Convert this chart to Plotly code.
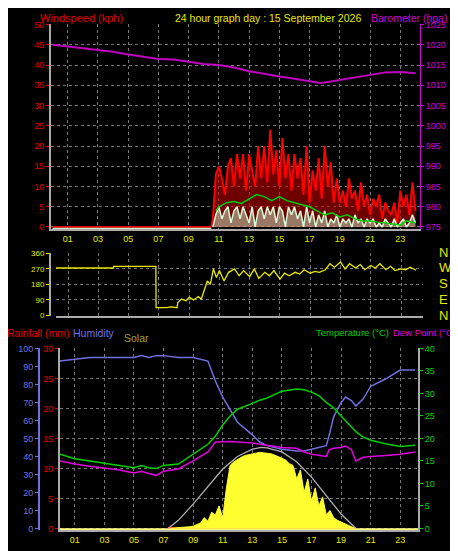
import plotly.graph_objects as go

W, H = 458, 551
# ---------------- data ----------------
baro_t = [0, 1, 2, 3, 4, 5, 6, 7, 8, 9, 10, 11, 12, 13, 14, 15, 16, 17, 17.7, 18, 19, 20, 21, 22, 23, 24]
baro_v = [1020, 1019.6, 1019.1, 1018.8, 1018.3, 1017.6, 1017, 1016.5, 1016.4, 1015.9, 1015.3, 1015,
          1014.4, 1013.5, 1012.8, 1012.2, 1011.6, 1011.1, 1010.6, 1010.7, 1011.3, 1012, 1012.6, 1013.2, 1013.3, 1013]

gust = [2, 13, 15, 12, 8, 15, 17, 10, 18, 12, 18, 9, 18, 14, 10, 20, 12, 20, 11, 24, 13, 19, 10, 22,
        12, 18, 9, 18, 12, 17, 8, 20, 6, 14, 9, 17, 7, 20, 10, 16, 6, 12, 6, 9, 5, 12, 7, 9, 4, 11,
        5, 8, 3, 7, 5, 8, 2, 6, 4, 3, 6, 1, 9, 5, 8, 3, 11, 4]
avg_t = [10.8, 11, 11.5, 12, 12.5, 13, 13.5, 14, 14.5, 15, 15.5, 16, 16.5, 17, 17.5, 18, 18.5, 19, 19.5,
         20, 20.5, 21, 21.5, 22, 22.5, 23, 23.4, 24]
avg_v = [4, 5, 6, 6.3, 5.8, 7, 8, 7.5, 6.5, 7.5, 6.5, 6, 5.5, 5, 4, 3, 3.5, 2.5, 3, 2, 1.5, 1.5, 1.2,
         1, 0.8, 0.5, 1.5, 1]
lull = [0, 3, 5, 2, 4, 5, 1, 4, 5, 2, 5, 3, 1, 5, 0, 4, 5, 2, 5, 3, 5, 1, 5, 4, 0, 5, 3, 5, 2, 4,
        0, 5, 1, 4, 0, 3, 1, 4, 0, 2, 1, 3, 0, 2, 1, 2, 0, 3, 1, 2, 0, 2, 1, 2, 0, 1, 0, 2, 1, 0,
        2, 0, 1, 2, 0, 1, 3, 1]

dir_t = [0, 4, 4.01, 6.8, 6.81, 7.5, 7.8, 8.2, 8.25, 8.5, 8.8, 9, 9.3, 9.6, 9.8, 10, 10.2, 10.4, 10.6,
         10.8, 11, 11.3, 11.6, 12, 12.3, 12.6, 13, 13.3, 13.6, 14, 14.3, 14.6, 15, 15.3, 15.6, 16,
         16.3, 16.6, 17, 17.3, 17.6, 18, 18.3, 18.6, 19, 19.3, 19.6, 20, 20.3, 20.6, 21, 21.3, 21.6,
         22, 22.3, 22.6, 23, 23.3, 23.6, 24]
dir_v = [275, 275, 285, 285, 45, 45, 50, 45, 75, 95, 85, 105, 90, 110, 95, 150, 200, 180, 270, 220,
         260, 200, 250, 270, 230, 260, 225, 270, 215, 250, 230, 260, 210, 245, 230, 250, 240, 265,
         245, 255, 250, 265, 300, 280, 310, 270, 300, 275, 295, 265, 290, 275, 300, 265, 285, 260,
         270, 265, 280, 262]

bt = [0, 1, 2, 3, 4, 5, 5.5, 6, 6.5, 7, 8, 9, 10, 10.5, 11, 11.5, 12, 13, 13.5, 14, 15, 16, 16.5, 17,
      17.5, 18, 18.2, 18.5, 19, 19.3, 19.7, 20, 20.5, 21, 22, 23, 24]
hum = [93, 94, 95, 95, 95, 95, 96, 95, 96, 96, 95, 95, 93, 82, 73, 66, 59, 52, 48, 46, 44, 43, 43, 44,
       45, 46, 52, 62, 70, 73, 71, 68, 72, 79, 83, 88, 88]
temp = [16.5, 15.5, 15, 14.5, 14, 13.5, 14, 13.5, 13.3, 14, 14.3, 16.5, 18.7, 20.5, 23, 25, 26.5, 27.8,
        28.5, 29, 30.5, 31, 30.8, 30.3, 29.5, 28, 27.5, 26.8, 25, 24, 22.5, 21.5, 20.3, 19.6, 18.8, 18.2, 18.5]
dew = [15, 14.3, 13.8, 13.4, 13, 12.3, 12.7, 12.2, 11.8, 12.7, 13.2, 15, 17, 19.2, 19.3, 19.3, 19.2,
       19, 18.7, 18.5, 18, 17.8, 17, 16.5, 16.2, 16, 17.5, 17.8, 18, 18.3, 17.5, 15, 15.8, 16, 16.2, 16.5, 17]

solar_t = [7.5 + 0.25 * i for i in range(51)]
solar = [3, 5, 8, 10, 12, 18, 25, 40, 60, 120, 80, 180, 150, 250, 120, 450, 700, 740, 770, 790, 810,
         820, 830, 840, 845, 840, 835, 830, 815, 800, 780, 760, 720, 700, 550, 650, 400, 550, 300, 450,
         250, 350, 150, 200, 120, 90, 70, 50, 30, 15, 0]
smax_t = [7.3, 8, 9, 10, 11, 12, 13, 13.6, 14, 15, 16, 17, 18, 19, 20]
smax_v = [0, 90, 270, 470, 660, 800, 880, 900, 895, 850, 740, 570, 370, 160, 0]
rain_t = [7.3, 20]
rain_v = [0, 0]

hours = list(range(1, 24, 2))
hour_lbl = [f"{h:02d}" for h in hours]
# --------------------------------------
FONT = "Liberation Sans"
GRID = dict(showgrid=True, gridcolor="#777", griddash="dot", gridwidth=1)
fig = go.Figure()

def py(p):
    return 1 - p / H

def px(p):
    return p / W

gust_t = [round(10.6 + 0.2 * i, 1) for i in range(len(gust))]
# top panel
fig.add_trace(go.Scatter(x=[0, 10.5] , y=[0, 0], mode="lines", line=dict(color="#e00000", width=2), xaxis="x", yaxis="y"))
fig.add_trace(go.Scatter(x=[0, 10.5], y=[-0.4, -0.4], mode="lines", line=dict(color="#c8f0c8", width=1.5), xaxis="x", yaxis="y"))
fig.add_trace(go.Scatter(x=[10.5] + gust_t, y=[0] + gust, mode="lines", line=dict(color="#ff0000", width=2),
                         fill="tozeroy", fillcolor="rgba(200,0,0,0.55)", xaxis="x", yaxis="y"))
fig.add_trace(go.Scatter(x=gust_t, y=lull, mode="lines", line=dict(color="#d8f8d8", width=1.5),
                         fill="tozeroy", fillcolor="rgba(200,240,200,0.5)", xaxis="x", yaxis="y"))
fig.add_trace(go.Scatter(x=avg_t, y=avg_v, mode="lines", line=dict(color="#00d000", width=1.5), xaxis="x", yaxis="y"))
fig.add_trace(go.Scatter(x=baro_t, y=baro_v, mode="lines", line=dict(color="#c000c0", width=2), xaxis="x", yaxis="y2"))
# middle
fig.add_trace(go.Scatter(x=dir_t, y=dir_v, mode="lines", line=dict(color="#e8e800", width=1.3), xaxis="x2", yaxis="y3"))
# bottom
fig.add_trace(go.Scatter(x=solar_t, y=solar, mode="lines", fill="tozeroy", fillcolor="#ffff30",
                         line=dict(color="#ffff30", width=1), xaxis="x3", yaxis="y7"))
fig.add_trace(go.Scatter(x=smax_t, y=smax_v, mode="lines", line=dict(color="#b0b0b0", width=1.3), xaxis="x3", yaxis="y7"))
fig.add_trace(go.Scatter(x=[0, 24.2], y=[-0.8, -0.8], mode="lines", line=dict(color="#ffff80", width=3), xaxis="x3", yaxis="y4"))
fig.add_trace(go.Scatter(x=rain_t, y=rain_v, mode="lines", line=dict(color="#ff0000", width=3), xaxis="x3", yaxis="y5"))
fig.add_trace(go.Scatter(x=bt, y=hum, mode="lines", line=dict(color="#7070e0", width=1.5), xaxis="x3", yaxis="y4"))
fig.add_trace(go.Scatter(x=bt, y=dew, mode="lines", line=dict(color="#e000e0", width=1.5), xaxis="x3", yaxis="y6"))
fig.add_trace(go.Scatter(x=bt, y=temp, mode="lines", line=dict(color="#00d000", width=1.5), xaxis="x3", yaxis="y6"))

tf = lambda c: dict(family=FONT, size=9, color=c)
xcommon = dict(tickvals=hours, ticktext=hour_lbl, showline=True, linecolor="#aaa", linewidth=2,
               zeroline=False, ticks="", **GRID)
fig.update_layout(
    width=W, height=H, margin=dict(l=0, r=0, t=0, b=0), paper_bgcolor="black", plot_bgcolor="black",
    showlegend=False,
    xaxis=dict(domain=[px(43), px(412)], range=[-0.1, 24.3], anchor="y", tickfont=tf("#e8e800"),
               ticklabelstandoff=0, **xcommon),
    yaxis=dict(domain=[py(220), py(11)], range=[-0.6, 50.2], tickvals=list(range(0, 51, 5)),
               tickfont=tf("#e00000"), showline=True, linecolor="#aaa", linewidth=2, zeroline=False,
               ticks="outside", tickcolor="#e00000", ticklen=3, **GRID),
    yaxis2=dict(overlaying="y", side="right", anchor="x", range=[974.4, 1025.2],
                tickvals=list(range(975, 1026, 5)), tickfont=tf("#d000d0"), showgrid=False,
                showline=True, linecolor="#d000d0", zeroline=False, ticks="outside", tickcolor="#d000d0", ticklen=3),
    xaxis2=dict(domain=[px(48), px(415)], range=[0.2, 24.45], anchor="y3", showticklabels=False, **xcommon),
    yaxis3=dict(domain=[py(308), py(244)], range=[-3, 362], tickvals=[0, 90, 180, 270, 360],
                tickfont=dict(family=FONT, size=8, color="#e8e800"), showline=True, linecolor="#aaa",
                linewidth=2, zeroline=False, ticks="outside", tickcolor="#e8e800", ticklen=3, **GRID),
    xaxis3=dict(domain=[px(52), px(410)], range=[0, 24.2], anchor="y5", tickfont=tf("#e8e800"),
                ticklabelstandoff=0, **xcommon),
    yaxis5=dict(domain=[py(526), py(341)], range=[-0.33, 30], tickvals=list(range(0, 31, 5)),
                tickfont=tf("#e00000"), showline=True, linecolor="#aaa", linewidth=2, zeroline=False,
                ticks="outside", tickcolor="#e00000", ticklen=3, anchor="x3",
                **GRID),
    yaxis4=dict(overlaying="y5", anchor="free", position=px(31), range=[-1.1, 100],
                tickvals=list(range(0, 101, 10)), tickfont=tf("#7070e0"), showline=True,
                linecolor="#7070e0", linewidth=2, showgrid=False, zeroline=False,
                ticks="outside", tickcolor="#7070e0", ticklen=3),
    yaxis6=dict(overlaying="y5", side="right", anchor="x3", range=[-0.44, 40],
                tickvals=list(range(0, 41, 5)), tickfont=tf("#00d000"), showline=True,
                linecolor="#aaa", linewidth=2, showgrid=False, zeroline=False,
                ticks="outside", tickcolor="#00d000", ticklen=3),
    yaxis7=dict(overlaying="y5", range=[-22, 2000], visible=False),
)

def txt(x, y, s, c, size=10.5, anchor="left"):
    fig.add_annotation(x=px(x), y=py(y), xref="paper", yref="paper", text=s, showarrow=False,
                       xanchor=anchor, yanchor="middle", xshift=-2, borderpad=0,
                       font=dict(family=FONT, size=size, color=c))

txt(33, 5, "Windspeed (kph)", "#e00000", 11)
txt(168, 5, "24 hour graph day : 15 September 2026", "#e8e800")
txt(364, 5, "Barometer (hpa)", "#d000d0")
for i, d in enumerate(["N", "W", "S", "E", "N"]):
    txt(432, 243 + i * 16.2, d, "#e8e800", 13)
txt(0, 325, "Rainfall (mm)", "#e00000")
txt(66, 325, "Humidity", "#7070e0")
txt(117, 330, "Solar", "#a0a030")
txt(309, 325, "Temperature (°C)", "#00d000", 9.5)
txt(386, 325, "Dew Point (°C)", "#e000e0", 9.5)

fig.write_html("out.html")
